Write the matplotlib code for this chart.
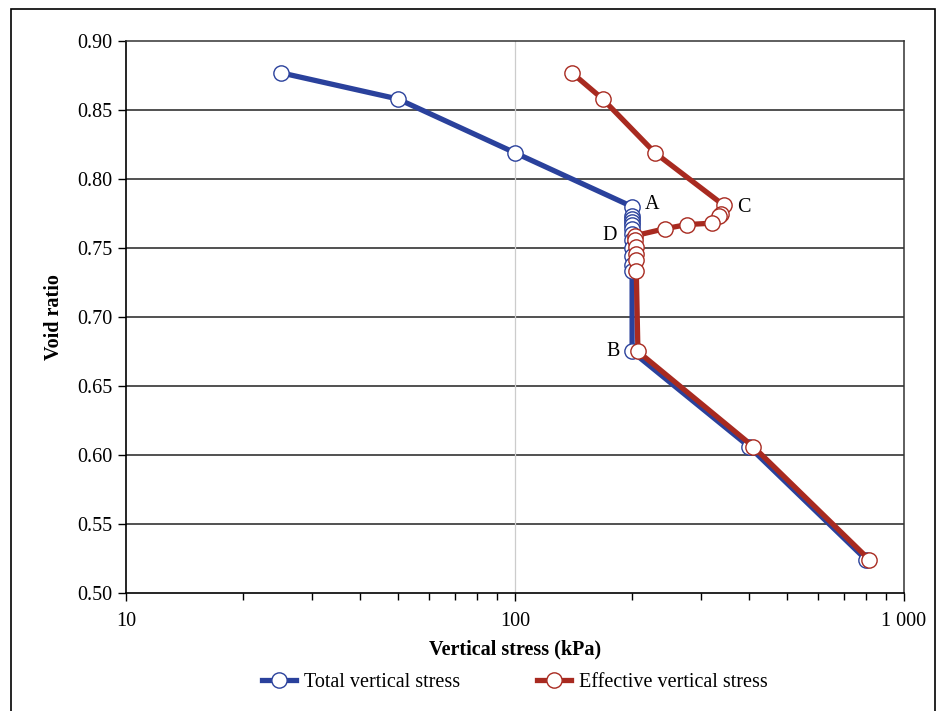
import matplotlib
matplotlib.use('Agg')
import matplotlib.pyplot as plt
from matplotlib.patches import Rectangle
from matplotlib.ticker import FixedLocator, LogLocator, NullFormatter

# ---------------------------------------------------------------------------
# Data
# ---------------------------------------------------------------------------
total_stress = [25, 50, 100, 200, 200, 200, 200, 200, 200, 200, 200, 200,
                200, 200, 200, 200, 400, 800]
total_void = [0.877, 0.858, 0.819, 0.780, 0.773, 0.771, 0.769, 0.767, 0.764,
              0.760, 0.756, 0.750, 0.744, 0.738, 0.733, 0.675, 0.606, 0.524]

eff_stress = [140, 168, 229, 344, 339, 334, 321, 277, 243, 204, 204, 205,
              205, 205, 205, 207, 410, 815]
eff_void = [0.877, 0.858, 0.819, 0.781, 0.775, 0.773, 0.768, 0.767, 0.764,
            0.759, 0.756, 0.751, 0.746, 0.741, 0.733, 0.675, 0.606, 0.524]

point_labels = ['A', 'B', 'C', 'D']
label_xy = [(216, 0.7815), (186, 0.675), (372, 0.7795), (183, 0.759)]

xticks = [10, 100, 1000]
xticklabels = ['10', '100', '1 000']
yticks = [0.50, 0.55, 0.60, 0.65, 0.70, 0.75, 0.80, 0.85, 0.90]

BLUE = '#2a419c'
RED = '#a82a20'
FS = 14.5

plt.rcParams['font.family'] = ['Liberation Serif', 'DejaVu Serif']

fig = plt.figure(figsize=(9.41, 7.11), dpi=100)
ax = fig.add_axes([0.1339, 0.166, 0.8268, 0.7763])

# outer frame of the figure (bottom edge falls off the picture)
fig.patches.append(Rectangle((0.0117, -0.02), 0.982, 1.007, fill=False,
                             edgecolor='black', linewidth=1.2,
                             transform=fig.transFigure, clip_on=False))

ax.set_xscale('log')
ax.set_xlim(10, 1000)
ax.set_ylim(0.50, 0.90)

# grid
for y in yticks[1:-1]:
    ax.axhline(y, color='#222222', linewidth=1.1, zorder=1)
ax.axvline(100, color='#cccccc', linewidth=0.9, zorder=1)

mk = dict(marker='o', markersize=11, markerfacecolor='white',
          markeredgewidth=1.0, linewidth=3.8, zorder=3)
ax.plot(total_stress, total_void, color=BLUE, markeredgecolor=BLUE,
        label='Total vertical stress', **mk)
ax.plot(eff_stress, eff_void, color=RED, markeredgecolor=RED,
        label='Effective vertical stress', **mk)

for lab, (x, y) in zip(point_labels, label_xy):
    ax.text(x, y, lab, fontsize=FS, ha='left' if lab in 'AC' else 'right',
            va='center', zorder=4)

ax.xaxis.set_major_locator(FixedLocator(xticks))
ax.set_xticklabels(xticklabels)
ax.xaxis.set_minor_locator(LogLocator(base=10, subs=range(2, 10)))
ax.xaxis.set_minor_formatter(NullFormatter())
ax.set_yticks(yticks)
ax.set_yticklabels([f'{v:.2f}' for v in yticks])

ax.tick_params(axis='both', which='major', direction='out', length=6,
               width=1.0, labelsize=FS, colors='black')
ax.tick_params(axis='x', which='minor', direction='out', length=5, width=1.0)
ax.tick_params(axis='x', which='major', pad=8)

for side in ['left', 'bottom']:
    ax.spines[side].set_color('black')
    ax.spines[side].set_linewidth(1.2)
for side in ['right', 'top']:
    ax.spines[side].set_color('#333333')
    ax.spines[side].set_linewidth(1.1)

ax.set_xlabel('Vertical stress (kPa)', fontsize=FS, fontweight='bold', labelpad=6)
ax.set_ylabel('Void ratio', fontsize=FS, fontweight='bold', labelpad=10)

ax.legend(loc='upper center', bbox_to_anchor=(0.5, -0.112), ncol=2,
          frameon=False, fontsize=FS, handlelength=1.7, columnspacing=3.8,
          handletextpad=0.4)

fig.savefig('out.png', dpi=100)
plt.close(fig)
